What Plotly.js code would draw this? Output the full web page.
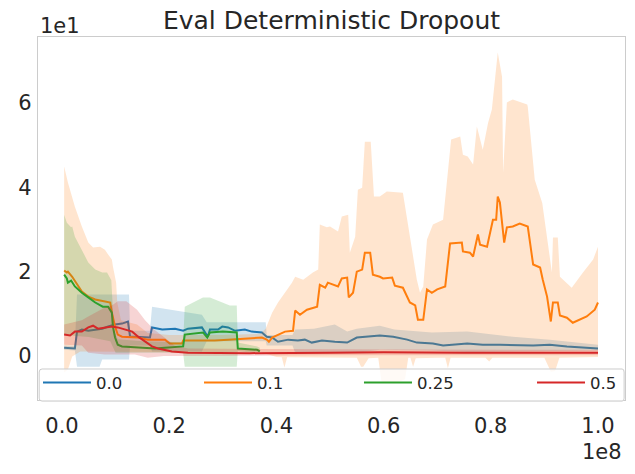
<!DOCTYPE html>
<html><head><meta charset="utf-8">
<script src="https://cdn.plot.ly/plotly-3.0.1.min.js"></script>
<style>html,body{margin:0;padding:0;background:#fff}#chart{width:635px;height:474px}</style>
</head><body><div id="chart"></div>
<script>
// x values in units of 1e8 steps; y values in real units (axis shows them scaled by 1e1)
const X_UNIT = 1e8;
const seriesNames = ['0.0', '0.1', '0.25', '0.5'];
const lineColors = ['#1f77b4', '#ff7f0e', '#2ca02c', '#d62728'];
const bandColors = ['rgba(31,119,180,0.2)', 'rgba(255,127,14,0.2)', 'rgba(44,160,44,0.2)', 'rgba(214,39,40,0.2)'];

const xTickVals = [0, 0.2, 0.4, 0.6, 0.8, 1.0];
const xTickText = ['0.0', '0.2', '0.4', '0.6', '0.8', '1.0'];
const yTickVals = [0, 20, 40, 60];
const yTickText = ['0', '2', '4', '6'];

// 0.0
const x00 = [0.004,0.024,0.028,0.037,0.049,0.075,0.086,0.099,0.112,0.123,0.127,0.136,0.164,0.168,0.187,0.211,0.226,0.235,0.261,0.267,0.272,0.276,0.291,0.299,0.310,0.323,0.341,0.354,0.373,0.382,0.392,0.403,0.422,0.440,0.453,0.466,0.485,0.509,0.532,0.550,0.593,0.618,0.644,0.662,0.692,0.711,0.756,0.785,0.817,0.879,0.910,0.942,0.979,1.0];
const mean00 = [2.0,1.8,5.8,6.3,6.0,6.5,7.0,7.5,7.7,8.2,4.6,4.6,4.4,6.8,6.3,6.5,6.0,6.5,6.8,5.6,4.6,6.3,6.3,7.0,6.8,6.0,6.3,5.8,5.6,4.6,4.4,3.4,3.9,3.7,3.9,3.2,3.7,3.4,3.2,4.4,4.9,4.6,3.9,3.2,3.0,2.5,3.0,2.7,2.7,2.5,2.7,2.3,2.0,1.8];
const upX00 = [0.004,0.024,0.028,0.125,0.127,0.164,0.168,0.235,0.261,0.27,0.38,0.382,0.43,0.435,0.47,0.509,0.532,0.55,0.593,0.62,0.69,0.756,0.841,0.91,1.0];
const upY00 = [2.5,2.4,14.6,14.6,6.0,6.0,11.7,10.3,9.8,8.0,8.0,5.0,5.0,6.3,6.5,7.5,5.8,6.5,7.2,6.3,5.6,5.8,4.6,3.9,2.7];
const loX00 = [0.004,0.024,0.028,0.07,0.075,0.125,0.127,0.164,0.168,0.261,0.27,0.38,0.382,0.43,0.435,0.55,0.593,0.69,0.756,1.0];
const loY00 = [1.5,1.3,-2.5,-2.5,-0.8,-0.8,2.5,2.5,1.1,1.1,3.5,3.5,2.5,2.5,0.8,0.8,1.5,1.3,1.0,1.3];

// 0.1
const x01 = [0.004,0.009,0.011,0.019,0.037,0.049,0.062,0.080,0.090,0.093,0.099,0.104,0.112,0.142,0.160,0.192,0.201,0.224,0.226,0.267,0.285,0.310,0.341,0.373,0.382,0.386,0.392,0.403,0.416,0.431,0.435,0.444,0.457,0.476,0.481,0.491,0.496,0.515,0.522,0.532,0.535,0.543,0.550,0.560,0.565,0.575,0.580,0.593,0.599,0.616,0.621,0.636,0.649,0.659,0.664,0.674,0.681,0.690,0.700,0.715,0.724,0.746,0.748,0.761,0.767,0.776,0.780,0.793,0.797,0.804,0.810,0.813,0.817,0.825,0.830,0.841,0.854,0.868,0.869,0.879,0.892,0.897,0.905,0.912,0.916,0.925,0.929,0.942,0.953,0.979,0.994,1.0];
const mean01 = [20.3,19.8,20.0,18.8,15.3,14.1,13.4,12.9,12.7,10.3,7.0,5.1,4.6,4.4,3.9,3.9,3.0,3.0,3.7,3.7,3.7,3.9,4.1,4.4,3.9,3.4,4.4,5.1,5.8,6.0,10.8,9.8,11.0,11.7,16.9,16.2,17.4,16.5,18.4,18.6,13.9,15.0,20.0,20.5,24.5,24.5,19.3,18.8,18.4,18.6,16.7,16.2,12.7,12.0,8.6,8.6,15.8,15.0,15.8,16.5,26.7,26.9,24.8,24.5,23.6,28.8,26.4,25.9,28.3,32.3,32.3,37.8,36.4,26.9,30.5,30.7,31.4,30.9,30.7,21.7,21.0,18.1,14.1,8.2,12.7,12.7,9.6,9.1,7.9,9.4,11.0,12.7];
const upX01 = [0.004,0.011,0.024,0.037,0.049,0.058,0.071,0.080,0.086,0.093,0.095,0.101,0.103,0.11,0.14,0.16,0.2,0.3,0.37,0.38,0.392,0.403,0.429,0.435,0.450,0.468,0.478,0.481,0.494,0.500,0.515,0.522,0.534,0.537,0.547,0.552,0.560,0.565,0.576,0.582,0.593,0.606,0.636,0.646,0.653,0.662,0.668,0.674,0.681,0.692,0.711,0.718,0.726,0.743,0.748,0.757,0.767,0.774,0.780,0.785,0.795,0.802,0.813,0.821,0.823,0.830,0.841,0.868,0.869,0.882,0.896,0.907,0.914,0.916,0.925,0.929,0.951,0.972,0.991,1.0];
const upY01 = [44.9,41.1,35.4,30.7,26.9,25.7,25.9,25.2,24.1,22.9,21.2,17.4,12.7,8.5,7.5,5.5,5.0,5.0,5.3,6.5,10.3,12.7,17.4,18.8,18.1,19.8,20.5,31.2,30.5,30.7,29.5,33.1,33.5,24.5,28.3,39.4,39.9,50.8,50.8,37.8,37.8,39.0,38.7,30.7,24.5,18.1,15.0,16.5,27.6,31.2,32.3,41.8,51.3,52.0,47.7,47.3,45.4,54.4,51.3,48.9,55.3,58.4,71.9,66.2,43.5,60.1,60.8,59.6,59.1,41.8,36.3,25.9,19.8,28.1,28.1,18.8,16.2,19.8,22.9,25.9];
const loX01 = [0.004,0.011,0.019,0.034,0.1,0.2,0.37,0.40,0.41,0.415,0.42,0.43,0.55,0.558,0.562,0.572,0.578,0.59,0.596,0.62,0.64,0.646,0.650,0.655,0.660,0.70,0.715,0.720,0.725,0.79,0.797,0.803,0.90,0.912,0.92,0.928,1.0];
const loY01 = [-3.9,-3.2,-0.1,1.1,1.0,1.0,1.0,-0.2,-0.3,-2.7,-0.3,-0.4,-0.4,-2.5,-2.5,-0.5,-0.4,-0.4,-6.0,-6.5,-5.5,-0.4,-0.4,-2.5,-0.5,-0.4,-0.4,-2.9,-0.4,-0.4,-1.3,-0.4,-0.4,-3.7,-3.5,-0.4,-0.2];

// 0.25
const x025 = [0.004,0.009,0.011,0.017,0.024,0.037,0.049,0.062,0.076,0.086,0.093,0.095,0.099,0.104,0.112,0.142,0.174,0.192,0.226,0.229,0.263,0.271,0.276,0.300,0.326,0.328,0.364,0.369];
const mean025 = [19.3,18.4,17.4,17.9,16.5,15.0,13.9,12.7,11.7,11.7,10.3,7.0,4.4,2.7,2.3,2.0,1.8,2.0,2.3,5.1,5.6,4.4,5.6,5.8,5.6,1.8,1.5,1.1];
const upX025 = [0.004,0.009,0.017,0.019,0.024,0.037,0.049,0.062,0.075,0.084,0.088,0.092,0.097,0.104,0.15,0.226,0.229,0.263,0.276,0.313,0.326,0.328,0.364,0.369];
const upY025 = [33.5,31.6,30.5,30.7,28.3,25.2,22.2,20.5,19.8,19.8,18.8,18.0,6.0,4.0,3.5,3.3,11.7,13.9,13.9,12.0,12.0,3.2,2.3,2.0];
const loX025 = [0.004,0.05,0.09,0.1,0.226,0.229,0.326,0.328,0.369];
const loY025 = [5.0,4.5,3.5,0.8,0.8,-2.5,-2.5,1.2,0.6];

// 0.5
const x05 = [0.004,0.015,0.024,0.037,0.049,0.058,0.067,0.080,0.093,0.104,0.118,0.131,0.142,0.155,0.168,0.179,0.205,0.235,0.35,0.5,0.6,0.75,0.9,1.0];
const mean05 = [5.1,4.9,5.8,5.8,6.8,7.2,6.5,6.8,7.0,6.8,6.3,5.8,4.6,3.4,2.3,1.8,1.1,0.8,0.7,0.8,0.9,0.8,0.9,0.8];
const upX05 = [0.004,0.037,0.049,0.08,0.093,0.104,0.12,0.14,0.155,0.17,0.19,0.21,0.235,0.5,1.0];
const upY05 = [7.5,8.5,9.4,11.5,12.0,13.0,13.0,11.0,8.5,6.5,4.5,2.5,1.8,1.6,1.5];
const loX05 = [0.004,0.037,0.049,0.08,0.136,0.16,0.19,0.235,0.5,1.0];
const loY05 = [2.7,2.5,0.8,0.4,0.4,-0.4,0.0,0.1,0.2,0.2];

const series = [
  {x: x00, m: mean00, ux: upX00, uy: upY00, lx: loX00, ly: loY00},
  {x: x01, m: mean01, ux: upX01, uy: upY01, lx: loX01, ly: loY01},
  {x: x025, m: mean025, ux: upX025, uy: upY025, lx: loX025, ly: loY025},
  {x: x05, m: mean05, ux: upX05, uy: upY05, lx: loX05, ly: loY05}
];

const FONT = 'DejaVu Sans, Liberation Sans, sans-serif';
const TXT = '#262626';
const sc = a => a.map(v => v * X_UNIT);

// legend column positions (paper fraction of plot width) for the 4 columns
const legendCols = [0.0, 0.2743, 0.5468, 0.8416];
const legendIds = ['legend', 'legend2', 'legend3', 'legend4'];

const traces = [];
series.forEach((s, i) => {
  traces.push({
    type: 'scatter', mode: 'lines', name: seriesNames[i], legend: legendIds[i],
    x: sc(s.x), y: s.m, line: {color: lineColors[i], width: 2}, hoverinfo: 'skip'
  });
  traces.push({
    type: 'scatter', mode: 'lines', showlegend: false,
    x: sc(s.ux.concat(s.lx.slice().reverse())),
    y: s.uy.concat(s.ly.slice().reverse()),
    fill: 'toself', fillcolor: bandColors[i], line: {width: 0, color: bandColors[i]}, hoverinfo: 'skip'
  });
});

const layout = {
  width: 635, height: 474,
  margin: {l: 38, r: 10, t: 37, b: 74, pad: 0},
  paper_bgcolor: '#ffffff', plot_bgcolor: '#ffffff',
  font: {family: FONT, color: TXT},
  showlegend: true,
  title: {text: 'Eval Deterministic Dropout', font: {family: FONT, size: 25, color: TXT},
          x: 0.5, xref: 'paper', xanchor: 'center', y: 1 - 20 / 474, yref: 'container', yanchor: 'middle'},
  xaxis: {
    range: [-0.0448 * X_UNIT, 1.0504 * X_UNIT],
    tickvals: sc(xTickVals), ticktext: xTickText, tickmode: 'array',
    showgrid: false, zeroline: false, showline: true, mirror: true,
    linecolor: '#cccccc', linewidth: 1.25, ticks: '',
    tickfont: {family: FONT, size: 21, color: TXT}, ticklabelstandoff: 7
  },
  yaxis: {
    range: [-10.4, 75.6],
    tickvals: yTickVals, ticktext: yTickText, tickmode: 'array',
    showgrid: false, zeroline: false, showline: true, mirror: true,
    linecolor: '#cccccc', linewidth: 1.25,
    ticks: 'outside', ticklen: 1, tickcolor: 'rgba(0,0,0,0)',
    tickfont: {family: FONT, size: 21, color: TXT}, ticklabelstandoff: 0
  },
  shapes: [
    {type: 'path', xref: 'paper', yref: 'paper', layer: 'above',
     path: 'M 0.0070 -0.0030 L 0.9950 -0.0030 Q 0.9985 -0.0030 0.9985 0.0050 L 0.9985 0.0770 Q 0.9985 0.0854 0.9950 0.0854 L 0.0070 0.0854 Q 0.0020 0.0854 0.0020 0.0770 L 0.0020 0.0050 Q 0.0020 -0.0030 0.0070 -0.0030 Z',
     fillcolor: 'rgba(255,255,255,0.8)', line: {color: '#cccccc', width: 1}}
  ],
  annotations: [
    {text: '1e1', xref: 'paper', yref: 'paper', x: 0, y: 1, xanchor: 'left', yanchor: 'bottom',
     showarrow: false, font: {family: FONT, size: 21, color: TXT}, xshift: 0, yshift: -3},
    {text: '1e8', xref: 'paper', yref: 'paper', x: 1, y: 0, xanchor: 'right', yanchor: 'top',
     showarrow: false, font: {family: FONT, size: 21, color: TXT}, xshift: -1, yshift: -38}
  ]
};
legendIds.forEach((id, i) => {
  layout[id] = {
    orientation: 'h', x: legendCols[i], xanchor: 'left', y: 0.0477, yanchor: 'middle',
    xref: 'paper', yref: 'paper', bgcolor: 'rgba(0,0,0,0)', borderwidth: 0,
    font: {family: FONT, size: 16.5, color: TXT}, itemwidth: 48
  };
});

Plotly.newPlot('chart', traces, layout, {displayModeBar: false, staticPlot: true});
</script>
</body></html>
